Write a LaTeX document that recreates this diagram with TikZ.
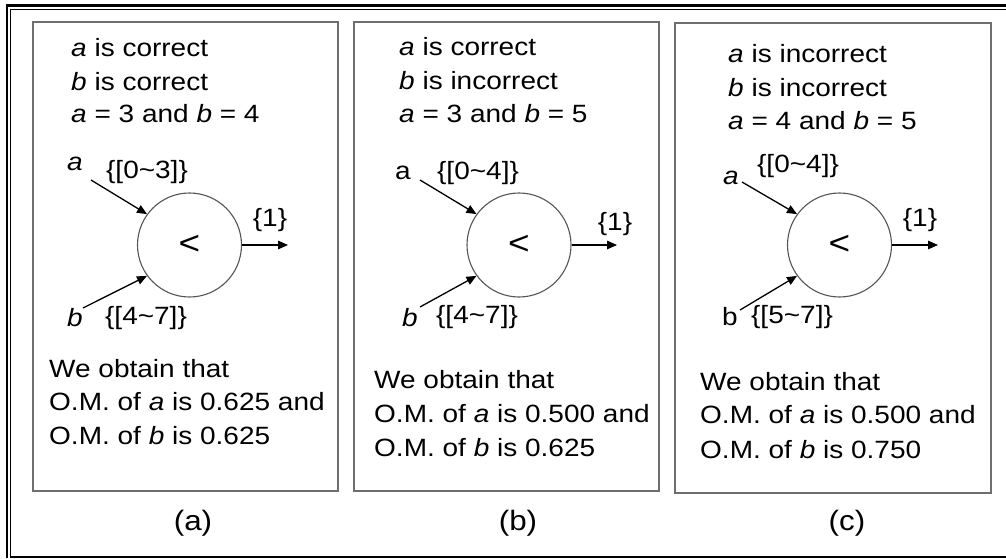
\documentclass[tikz,border=0pt]{standalone}
\usepackage{fontspec}
\setmainfont{Liberation Sans}[FakeStretch=1.12]
\usetikzlibrary{arrows.meta}
\newcommand\panelfont{\fontsize{25}{29}\selectfont}
\newcommand\capfont{\fontsize{28}{32}\selectfont}
\definecolor{boxgray}{RGB}{110,110,110}
\definecolor{gategray}{RGB}{85,85,85}
\begin{document}
\begin{tikzpicture}[x=1pt, y=1pt, every node/.style={inner sep=1pt, font=\panelfont},
  gate/.style={circle, draw=gategray, line width=1.1pt, minimum size=104pt, inner sep=0pt, font=\fontsize{33}{36}\selectfont},
  wire/.style={-{Triangle[length=10pt, width=8.5pt]}, line width=1.3pt},
  line/.style={anchor=base west}]
  \useasboundingbox (0,0) rectangle (1006,558);
  \draw[line width=2.5pt] (7,0) -- (7,552.5) -- (1006,552.5);
  \draw[line width=1.3pt] (1006,1) -- (10.8,1) -- (10.8,548.3) -- (1006,548.3);
  \draw[boxgray, line width=1.5pt] (33,67) rectangle (338,536);
  \draw[boxgray, line width=1.5pt] (354,67) rectangle (659,536);
  \draw[boxgray, line width=1.5pt] (675,65) rectangle (991,535);
  \node[line] (ta1) at (70,501) {\textit{a} is correct};
  \node[line] (ta2) at (70,467.5) {\textit{b} is correct};
  \node[line] (ta3) at (70,435) {\textit{a} = 3 and \textit{b} = 4};
  \node[line] (tb1) at (398,502) {\textit{a} is correct};
  \node[line] (tb2) at (398,468.5) {\textit{b} is incorrect};
  \node[line] (tb3) at (398,435) {\textit{a} = 3 and \textit{b} = 5};
  \node[line] (tc1) at (727,495) {\textit{a} is incorrect};
  \node[line] (tc2) at (727,461) {\textit{b} is incorrect};
  \node[line] (tc3) at (727,428) {\textit{a} = 4 and \textit{b} = 5};
  \node[gate] (ga) at (189.5,313) {<};
  \node[gate] (gb) at (519,313) {<};
  \node[gate] (gc) at (839.5,313) {<};
  \coordinate (ina) at (91,378);
  \coordinate (inb) at (420,378);
  \coordinate (inc) at (742,376);
  \coordinate (ibna) at (83,250);
  \coordinate (ibnb) at (420,251);
  \coordinate (ibnc) at (740,248);
  \coordinate (outa) at (288,313);
  \coordinate (outb) at (617,313);
  \coordinate (outc) at (938,313);
  \draw[wire] (ina) -- (ga.144);
  \draw[wire] (ibna) -- (ga.216);
  \draw[wire] (ga.east) -- (outa);
  \draw[wire] (inb) -- (gb.144);
  \draw[wire] (ibnb) -- (gb.216);
  \draw[wire] (gb.east) -- (outb);
  \draw[wire] (inc) -- (gc.144);
  \draw[wire] (ibnc) -- (gc.216);
  \draw[wire] (gc.east) -- (outc);
  \node (la) at (75,394) {\textit{a}};
  \node (ra) at (147,386) {\{[0\textasciitilde3]\}};
  \node (lb) at (403,385) {a};
  \node (rb) at (478,385) {\{[0\textasciitilde4]\}};
  \node (lc) at (731,380) {\textit{a}};
  \node (rc) at (798,392) {\{[0\textasciitilde4]\}};
  \node (ma) at (75,240) {\textit{b}};
  \node (sa) at (146,240) {\{[4\textasciitilde7]\}};
  \node (mb) at (410,240) {\textit{b}};
  \node (sb) at (477,241) {\{[4\textasciitilde7]\}};
  \node (mc) at (730,241) {b};
  \node (sc) at (792,241) {\{[5\textasciitilde7]\}};
  \node (oa) at (270,338) {\{1\}};
  \node (ob) at (615,334) {\{1\}};
  \node (oc) at (920,338) {\{1\}};
  \node[line] (ba1) at (48,181) {We obtain that};
  \node[line] (ba2) at (48,148) {O.M. of \textit{a} is 0.625 and};
  \node[line] (ba3) at (48,114) {O.M. of \textit{b} is 0.625};
  \node[line] (bb1) at (373,170) {We obtain that};
  \node[line] (bb2) at (373,136) {O.M. of \textit{a} is 0.500 and};
  \node[line] (bb3) at (373,102) {O.M. of \textit{b} is 0.625};
  \node[line] (bc1) at (699,168) {We obtain that};
  \node[line] (bc2) at (699,135) {O.M. of \textit{a} is 0.500 and};
  \node[line] (bc3) at (699,100) {O.M. of \textit{b} is 0.750};
  \node[font=\capfont] (pa) at (193,35) {(a)};
  \node[font=\capfont] (pb) at (518,35) {(b)};
  \node[font=\capfont] (pc) at (847,35) {(c)};
\end{tikzpicture}
\end{document}
